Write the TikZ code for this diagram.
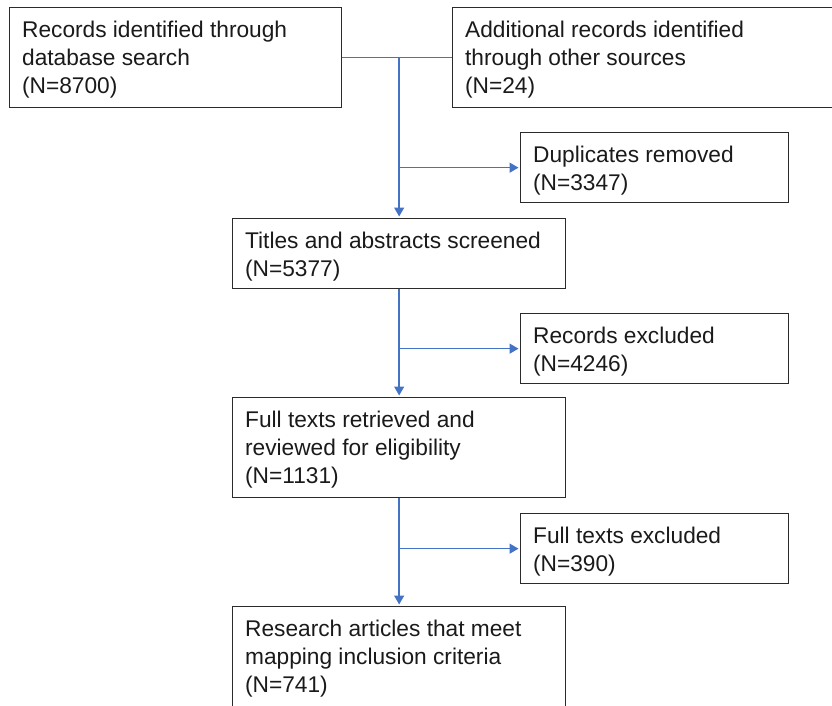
\documentclass[tikz,border=0pt]{standalone}
\usepackage{fontspec}
\setmainfont{Liberation Sans}
\usetikzlibrary{arrows.meta}
\definecolor{flowblue}{HTML}{4472C4}
\definecolor{boxedge}{HTML}{2B2B2B}
\definecolor{boxtextcol}{HTML}{1A1A1A}
\newcommand{\boxtext}[3]{\parbox[c][#1][t]{#2}{\raggedright\fontsize{22.7pt}{28pt}\selectfont\rule{0pt}{30pt}#3}}
\tikzset{
  flowbox/.style={draw=boxedge, line width=1.3pt, inner xsep=12.5pt, inner ysep=0pt, text=boxtextcol, anchor=north west},
  conn/.style={draw=flowblue, line width=1.4pt},
  arr/.style={conn, -{Triangle[width=10pt,length=9pt]}, shorten >=1.5pt}
}
\begin{document}
\begin{tikzpicture}[x=1pt,y=-1pt]
\useasboundingbox (0,0) rectangle (832,705);
\node[flowbox] (b1) at (9,7) {\boxtext{100pt}{307pt}{Records identified through\\database search\\(N=8700)}};
\node[flowbox] (b2) at (452,7) {\boxtext{100pt}{365pt}{Additional records identified\\through other sources\\(N=24)}};
\node[flowbox] (dup) at (520,132) {\boxtext{70pt}{243pt}{Duplicates removed\\(N=3347)}};
\node[flowbox] (t) at (232,218) {\boxtext{70pt}{308pt}{Titles and abstracts screened\\(N=5377)}};
\node[flowbox] (rex) at (520,313) {\boxtext{70pt}{243pt}{Records excluded\\(N=4246)}};
\node[flowbox] (f) at (232,397) {\boxtext{100pt}{308pt}{Full texts retrieved and\\reviewed for eligibility\\(N=1131)}};
\node[flowbox] (fex) at (520,513) {\boxtext{70pt}{243pt}{Full texts excluded\\(N=390)}};
\node[flowbox] (r) at (232,606) {\boxtext{102pt}{308pt}{Research articles that meet\\mapping inclusion criteria\\(N=741)}};
\coordinate (j1) at (t.north |- b1.east);
\coordinate (j2) at (t.north |- dup.west);
\coordinate (j3) at (t.south |- rex.west);
\coordinate (j4) at (f.south |- fex.west);
\draw[conn] (b1.east) -- (b2.west);
\draw[arr] (j1) -- (t.north);
\draw[arr] (j2) -- (dup.west);
\draw[arr] (t.south) -- (f.north);
\draw[arr] (j3) -- (rex.west);
\draw[arr] (f.south) -- (r.north);
\draw[arr] (j4) -- (fex.west);
\end{tikzpicture}
\end{document}
